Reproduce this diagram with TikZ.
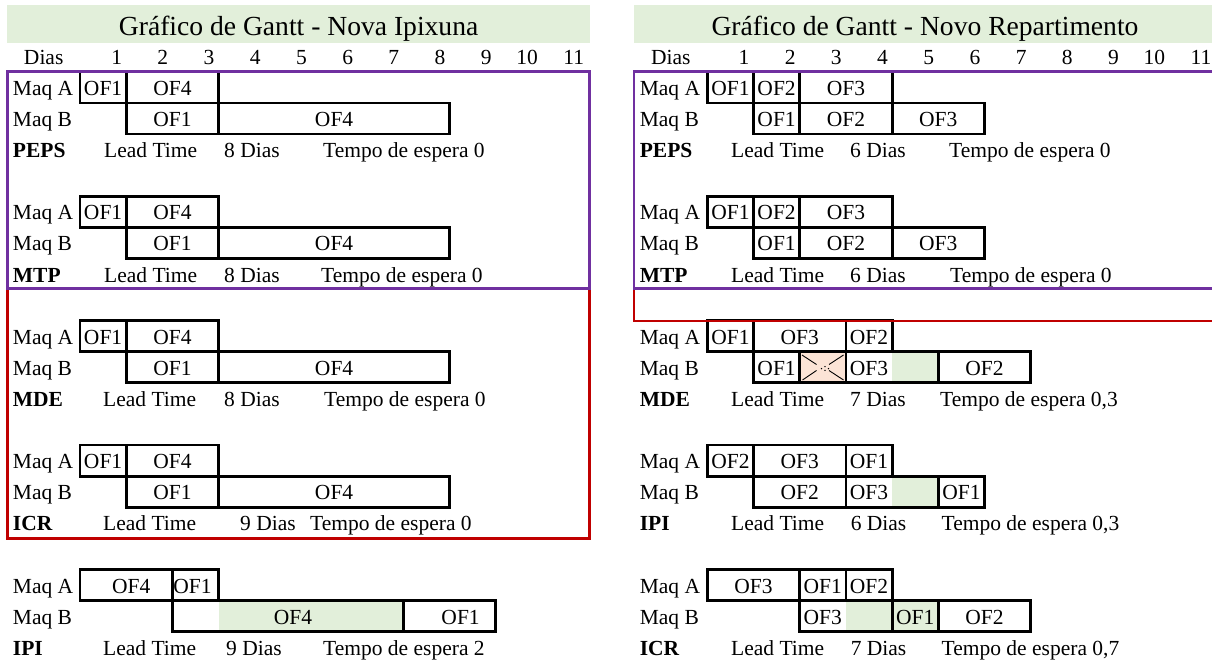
\documentclass[tikz,border=0pt]{standalone}
\usepackage{fontspec}
\setmainfont{Liberation Serif}
\definecolor{hdrgreen}{HTML}{E2EFDA}
\definecolor{waitgreen}{HTML}{E2EFDA}
\definecolor{pinkcell}{HTML}{FCE4D6}
\definecolor{framepurple}{HTML}{7030A0}
\definecolor{framered}{HTML}{C00000}

% grid of the sheet: column width, row height, top of first task row
\def\gcw{46.2}
\def\grh{31.1}
\def\gtop{71.8}

% a task bar from column #5 to #6 in row #4, label #7 (optional x shift #1)
\newcommand{\gbox}[7][0]{%
  \pgfmathsetmacro\gxa{#3+(#5-1)*\gcw}%
  \pgfmathsetmacro\gxb{#3+#6*\gcw}%
  \pgfmathsetmacro\gya{\gtop+#4*\grh}%
  \pgfmathsetmacro\gyb{\gya+\grh}%
  \pgfmathsetmacro\gxm{(\gxa+\gxb)/2+#1}%
  \draw[barline] (\gxa,\gya) rectangle (\gxb,\gyb);
  \node[cell,anchor=base] (#2) at (\gxm,\gyb-7.5) {#7};
}
% an outlined cell span without label
\newcommand{\gempty}[4]{%
  \pgfmathsetmacro\gxa{#1+(#3-1)*\gcw}%
  \pgfmathsetmacro\gxb{#1+#4*\gcw}%
  \pgfmathsetmacro\gya{\gtop+#2*\grh}%
  \draw[barline] (\gxa,\gya) rectangle (\gxb,\gya+\grh);
}
% a shaded cell span
\newcommand{\gfill}[5]{%
  \pgfmathsetmacro\gxa{#2+(#4-1)*\gcw}%
  \pgfmathsetmacro\gxb{#2+#5*\gcw}%
  \pgfmathsetmacro\gya{\gtop+#3*\grh}%
  \fill[#1] (\gxa,\gya) rectangle (\gxb,\gya+\grh);
}
% machine labels, rule name and lead-time line of one schedule
\newcommand{\gnames}[9]{%
  \pgfmathsetmacro\gya{\gtop+(#3+1)*\grh-7.5}%
  \pgfmathsetmacro\gyb{\gya+\grh}%
  \pgfmathsetmacro\gyc{\gyb+\grh}%
  \node[lbl] (#1ma) at (#2,\gya) {Maq A};
  \node[lbl] (#1mb) at (#2,\gyb) {Maq B};
  \node[lblb] (#1m) at (#2,\gyc) {#4};
  \node[lbl] (#1lt) at (#5,\gyc) {Lead Time};
  \node[lbl] (#1d) at (#6,\gyc) {#7};
  \node[lbl] (#1t) at (#8,\gyc) {#9};
}

\begin{document}
\begin{tikzpicture}[x=1pt,y=-1pt,
  cell/.style={font=\fontsize{21.5}{24}\selectfont, inner sep=0pt},
  lbl/.style={cell, anchor=base west},
  lblb/.style={lbl, font=\fontsize{21.5}{24}\selectfont\bfseries},
  ttl/.style={font=\fontsize{27.6}{30}\selectfont, inner sep=0pt, anchor=base},
  barline/.style={draw=black, line width=2.8pt},
  purplebox/.style={draw=framepurple, line width=2.8pt},
  redbox/.style={draw=framered, line width=2.8pt},
  thinx/.style={draw=black, line width=0.9pt}]
\useasboundingbox (0,0) rectangle (1212,662);
\clip (0,0) rectangle (1212,662);

% ---------- title bands ----------
\fill[hdrgreen] (7.3,5) rectangle (590,42.7);
\fill[hdrgreen] (634.3,5) rectangle (1215.5,42.7);
\node[ttl] (titleL) at (298.6,35) {Gráfico de Gantt - Nova Ipixuna};
\node[ttl] (titleR) at (925,35) {Gráfico de Gantt - Novo Repartimento};

% ---------- day headers ----------
\node[cell,anchor=base] (diasL) at (43.7,64.3) {Dias};
\node[cell,anchor=base] (diasR) at (670.8,64.3) {Dias};
\foreach \d in {1,...,11}{
  \node[cell,anchor=base east] (hl\d) at ({80+\d*\gcw-4},64.3) {\d};
  \node[cell,anchor=base east] (hr\d) at ({707.3+\d*\gcw-4},64.3) {\d};
}

% ---------- shaded cells ----------
\gfill{waitgreen}{80}{17}{4}{7}
\gfill{waitgreen}{707.3}{9}{5}{5}
\gfill{pinkcell}{707.3}{9}{3}{3}
\gfill{waitgreen}{707.3}{13}{5}{5}
\gfill{waitgreen}{707.3}{17}{4}{5}

% ---------- Nova Ipixuna ----------
\foreach \r/\p in {0/lpe,4/lmt,8/lmd,12/lic}{
  \pgfmathtruncatemacro\rb{\r+1}
  \gbox{\p1}{80}{\r}{1}{1}{OF1}
  \gbox{\p2}{80}{\r}{2}{3}{OF4}
  \gbox{\p3}{80}{\rb}{2}{3}{OF1}
  \gbox{\p4}{80}{\rb}{4}{8}{OF4}
}
\gbox[5]{lip1}{80}{16}{1}{2}{OF4}
\gbox[-3]{lip2}{80}{16}{3}{3}{OF1}
\gbox[5]{lip3}{80}{17}{3}{7}{OF4}
\gbox[11]{lip4}{80}{17}{8}{9}{OF1}

\gnames{lpe}{12.7}{0}{PEPS}{104}{224}{8 Dias}{323}{Tempo de espera 0}
\gnames{lmt}{12.7}{4}{MTP}{104}{224}{8 Dias}{321}{Tempo de espera 0}
\gnames{lmd}{12.7}{8}{MDE}{103}{224}{8 Dias}{324}{Tempo de espera 0}
\gnames{lic}{12.7}{12}{ICR}{103}{240}{9 Dias}{310}{Tempo de espera 0}
\gnames{lip}{12.7}{16}{IPI}{103}{226}{9 Dias}{323}{Tempo de espera 2}

% ---------- Novo Repartimento ----------
\foreach \r/\p in {0/rpe,4/rmt}{
  \pgfmathtruncatemacro\rb{\r+1}
  \gbox{\p1}{707.3}{\r}{1}{1}{OF1}
  \gbox{\p2}{707.3}{\r}{2}{2}{OF2}
  \gbox{\p3}{707.3}{\r}{3}{4}{OF3}
  \gbox{\p4}{707.3}{\rb}{2}{2}{OF1}
  \gbox{\p5}{707.3}{\rb}{3}{4}{OF2}
  \gbox{\p6}{707.3}{\rb}{5}{6}{OF3}
}
% MDE
\gbox{rmd1}{707.3}{8}{1}{1}{OF1}
\gbox{rmd2}{707.3}{8}{2}{3}{OF3}
\gbox{rmd3}{707.3}{8}{4}{4}{OF2}
\gbox{rmd4}{707.3}{9}{2}{2}{OF1}
\gempty{707.3}{9}{3}{3}
\gbox[-23.1]{rmd5}{707.3}{9}{4}{5}{OF3}
\gbox{rmd6}{707.3}{9}{6}{7}{OF2}
% crossed-out idle cell
\draw[thinx] (802,355) -- (816.5,364.5);
\draw[thinx] (843.5,355) -- (829,364.5);
\draw[thinx] (802.5,380) -- (816.5,370.5);
\draw[thinx] (843.5,380) -- (829,370.5);
\fill (821.5,368.6) circle (0.8);
\fill (825,366.6) circle (0.8);
\fill (825,370.4) circle (0.8);
\fill (828.5,368.6) circle (0.8);
% IPI
\gbox{rip1}{707.3}{12}{1}{1}{OF2}
\gbox{rip2}{707.3}{12}{2}{3}{OF3}
\gbox{rip3}{707.3}{12}{4}{4}{OF1}
\gbox{rip4}{707.3}{13}{2}{3}{OF2}
\gbox[-23.1]{rip5}{707.3}{13}{4}{5}{OF3}
\gbox{rip6}{707.3}{13}{6}{6}{OF1}
% ICR
\gbox{ric1}{707.3}{16}{1}{2}{OF3}
\gbox{ric2}{707.3}{16}{3}{3}{OF1}
\gbox{ric3}{707.3}{16}{4}{4}{OF2}
\gbox[-23.1]{ric4}{707.3}{17}{3}{4}{OF3}
\gbox{ric5}{707.3}{17}{5}{5}{OF1}
\gbox{ric6}{707.3}{17}{6}{7}{OF2}

\gnames{rpe}{639.6}{0}{PEPS}{731}{850}{6 Dias}{949}{Tempo de espera 0}
\gnames{rmt}{639.6}{4}{MTP}{731}{850}{6 Dias}{950}{Tempo de espera 0}
\gnames{rmd}{639.6}{8}{MDE}{731}{850}{7 Dias}{940}{Tempo de espera 0,3}
\gnames{rip}{639.6}{12}{IPI}{731}{850.6}{6 Dias}{941.5}{Tempo de espera 0,3}
\gnames{ric}{639.6}{16}{ICR}{731}{850.6}{7 Dias}{941.5}{Tempo de espera 0,7}

% ---------- group frames ----------
\draw[redbox] (7.3,288.5) rectangle (589.3,538.3);
\draw[redbox] (634,288.5) rectangle (1240,321);
\draw[purplebox] (7.3,71.5) rectangle (589.3,288.5);
\draw[purplebox] (634,71.5) rectangle (1240,288.5);
\end{tikzpicture}
\end{document}
